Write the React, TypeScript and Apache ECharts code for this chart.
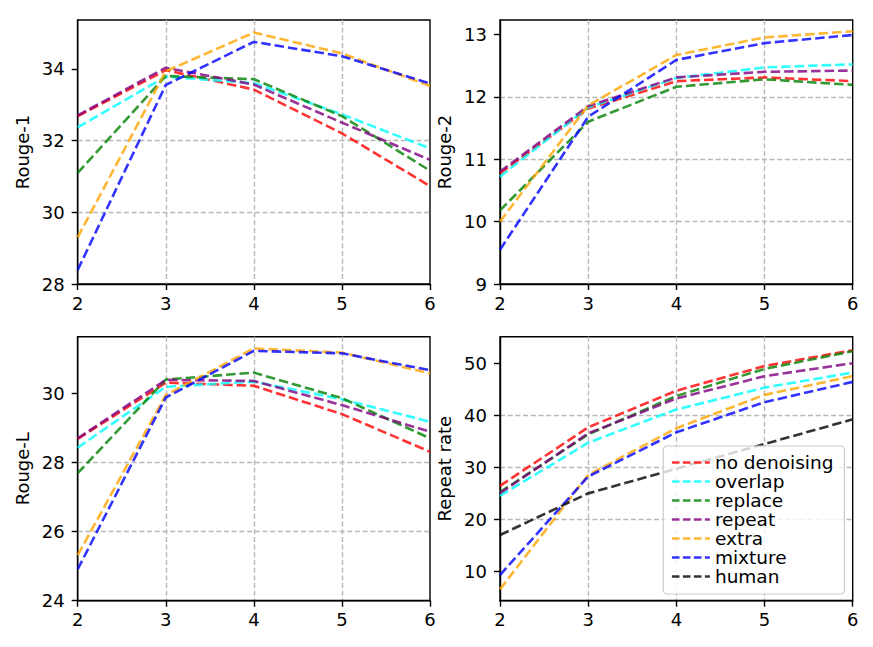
import React, { useEffect, useRef } from "react";
import * as echarts from "echarts";

const xValues = [2, 3, 4, 5, 6];
const seriesNames = ["no denoising", "overlap", "replace", "repeat", "extra", "mixture", "human"];
const seriesColors = [
  "rgba(255,0,0,0.8)",
  "rgba(0,255,255,0.8)",
  "rgba(0,128,0,0.8)",
  "rgba(128,0,128,0.8)",
  "rgba(255,165,0,0.8)",
  "rgba(0,0,255,0.8)",
  "rgba(0,0,0,0.8)",
];

// Rouge-1
const r1NoDenoising = [32.68, 33.96, 33.42, 32.2, 30.73];
const r1Overlap = [32.37, 33.78, 33.6, 32.73, 31.78];
const r1Replace = [31.1, 33.8, 33.71, 32.68, 31.16];
const r1Repeat = [32.7, 34.03, 33.56, 32.5, 31.46];
const r1Extra = [29.3, 33.93, 35.01, 34.43, 33.52];
const r1Mixture = [28.39, 33.55, 34.75, 34.35, 33.59];

// Rouge-2
const r2NoDenoising = [10.77, 11.81, 12.25, 12.31, 12.25];
const r2Overlap = [10.72, 11.83, 12.3, 12.47, 12.52];
const r2Replace = [10.18, 11.6, 12.16, 12.28, 12.19];
const r2Repeat = [10.8, 11.85, 12.31, 12.4, 12.42];
const r2Extra = [10.0, 11.86, 12.67, 12.95, 13.05];
const r2Mixture = [9.55, 11.68, 12.59, 12.86, 12.99];

// Rouge-L
const rlNoDenoising = [28.68, 30.31, 30.22, 29.4, 28.31];
const rlOverlap = [28.43, 30.19, 30.34, 29.83, 29.18];
const rlReplace = [27.69, 30.4, 30.6, 29.86, 28.7];
const rlRepeat = [28.7, 30.39, 30.36, 29.66, 28.89];
const rlExtra = [25.32, 29.95, 31.3, 31.18, 30.58];
const rlMixture = [24.91, 29.88, 31.23, 31.16, 30.67];

// Repeat rate
const rrNoDenoising = [26.5, 37.76, 44.8, 49.55, 52.6];
const rrOverlap = [24.6, 34.8, 41.2, 45.4, 48.3];
const rrReplace = [25.3, 36.4, 43.8, 49.0, 52.4];
const rrRepeat = [25.1, 36.6, 43.3, 47.6, 50.1];
const rrExtra = [6.6, 28.6, 37.6, 44.0, 47.6];
const rrMixture = [9.36, 28.3, 36.8, 42.6, 46.5];
const rrHuman = [17.05, 25.06, 29.8, 34.55, 39.3];

const xTicks = [2, 3, 4, 5, 6];
const r1Ticks = [28, 30, 32, 34];
const r2Ticks = [9, 10, 11, 12, 13];
const rlTicks = [24, 26, 28, 30];
const rrTicks = [10, 20, 30, 40, 50];

const panels = [
  { name: "Rouge-1", data: [r1NoDenoising, r1Overlap, r1Replace, r1Repeat, r1Extra, r1Mixture], min: 28, max: 35.36, ticks: r1Ticks },
  { name: "Rouge-2", data: [r2NoDenoising, r2Overlap, r2Replace, r2Repeat, r2Extra, r2Mixture], min: 9, max: 13.23, ticks: r2Ticks },
  { name: "Rouge-L", data: [rlNoDenoising, rlOverlap, rlReplace, rlRepeat, rlExtra, rlMixture], min: 24, max: 31.64, ticks: rlTicks },
  { name: "Repeat rate", data: [rrNoDenoising, rrOverlap, rrReplace, rrRepeat, rrExtra, rrMixture, rrHuman], min: 4.42, max: 55.19, ticks: rrTicks },
];

const gridRects = [
  { left: 77.7, top: 20, width: 352.3, height: 264 },
  { left: 500, top: 20, width: 352.7, height: 264 },
  { left: 77.7, top: 336.7, width: 352.3, height: 264 },
  { left: 500, top: 336.7, width: 352.7, height: 264 },
];

const FONT = "DejaVu Sans";

export default function App() {
  const ref = useRef<HTMLDivElement>(null);
  useEffect(() => {
    document.body.style.margin = "0";
    if (!ref.current) return;
    const chart = echarts.init(ref.current, null, { renderer: "svg" });
    const grid = gridRects.map((g) => ({
      ...g,
      show: true,
      borderColor: "#000",
      borderWidth: 1.4,
      backgroundColor: "transparent",
      containLabel: false,
    }));
    const splitLine = {
      show: true,
      showMinLine: false,
      showMaxLine: false,
      lineStyle: { color: "#b8b8b8", width: 1.4, type: [5, 2.7] },
    };
    const xAxis = panels.map((_, i) => ({
      type: "value",
      gridIndex: i,
      min: 2,
      max: 6,
      interval: 1,
      axisLine: { show: true, onZero: false, lineStyle: { color: "#000", width: 1.4 } },
      axisTick: { show: true, length: 6, lineStyle: { color: "#000", width: 1.4 }, customValues: xTicks },
      axisLabel: { show: true, margin: 10, fontSize: 18, color: "#000", fontFamily: FONT, customValues: xTicks },
      splitLine,
    }));
    const yAxis = panels.map((p, i) => ({
      type: "value",
      gridIndex: i,
      min: p.min,
      max: p.max,
      splitNumber: 5,
      name: p.name,
      nameLocation: "middle",
      nameGap: 46.5,
      nameTextStyle: { fontSize: 18, color: "#000", fontFamily: FONT },
      axisLine: { show: true, onZero: false, lineStyle: { color: "#000", width: 1.4 } },
      axisTick: { show: true, length: 6, lineStyle: { color: "#000", width: 1.4 }, customValues: p.ticks },
      axisLabel: { show: true, margin: 13, fontSize: 18, color: "#000", fontFamily: FONT, customValues: p.ticks },
      splitLine,
    }));
    const series: any[] = [];
    panels.forEach((p, i) => {
      p.data.forEach((vals, k) => {
        series.push({
          type: "line",
          name: seriesNames[k],
          xAxisIndex: i,
          yAxisIndex: i,
          data: xValues.map((x, j) => [x, vals[j]]),
          symbol: "none",
          showSymbol: false,
          lineStyle: { color: seriesColors[k], width: 2.6, type: [9.5, 4] },
          itemStyle: { color: seriesColors[k] },
          z: 2 + k * 0.01,
        });
      });
    });
    chart.setOption({
      animation: false,
      grid,
      xAxis,
      yAxis,
      series,
      legend: {
        show: true,
        orient: "vertical",
        left: 663.3,
        top: 446,
        data: seriesNames,
        backgroundColor: "rgba(255,255,255,0.8)",
        borderColor: "#cccccc",
        borderWidth: 1.2,
        borderRadius: 4,
        padding: [7, 11, 8, 7.4],
        itemWidth: 38,
        itemHeight: 12,
        itemGap: 0,
        selectedMode: false,
        textStyle: { fontSize: 18.5, lineHeight: 18.7, color: "#000", fontFamily: FONT },
        itemStyle: { color: "transparent", borderWidth: 0, opacity: 0 },
        lineStyle: { width: 2.4, type: [7.6, 3.4] },
      },
    });
    return () => chart.dispose();
  }, []);
  return <div ref={ref} style={{ width: 873, height: 647 }} />;
}
